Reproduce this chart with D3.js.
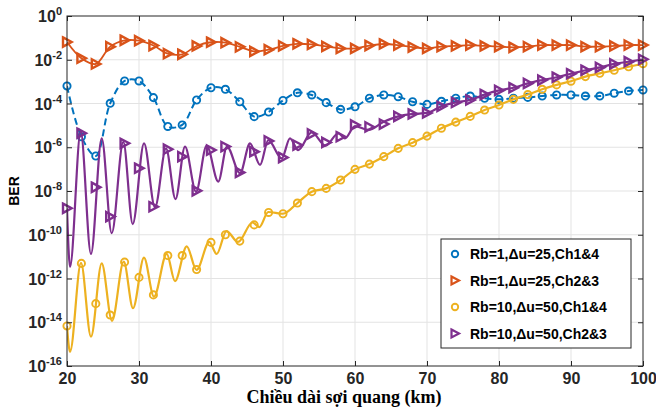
<!DOCTYPE html>
<html>
<head>
<meta charset="utf-8">
<script src="https://cdn.jsdelivr.net/npm/d3@7"></script>
<style>
    body { margin: 0; background: #fff; }
    svg text { font-family: "Liberation Sans", Arial, sans-serif; }
</style>
</head>
<body>
<div id="chart"></div>
<script>

// fibre length (km) where markers are drawn
var km = [20,22,24,26,28,30,32,34,36,38,40,42,44,46,48,50,52,54,56,58,
          60,62,64,66,68,70,72,74,76,78,80,82,84,86,88,90,92,94,96,98,100];

// log10(BER) at each marker
var berRb1Ch14 = [-3.20,-5.52,-6.40,-3.99,-2.97,-2.97,-3.73,-5.05,-4.98,-3.84,
                  -3.28,-3.35,-3.92,-4.60,-4.39,-3.86,-3.51,-3.61,-3.96,-4.27,
                  -4.15,-3.76,-3.61,-3.69,-3.92,-4.04,-3.90,-3.76,-3.66,-3.76,
                  -3.81,-3.76,-3.72,-3.66,-3.61,-3.61,-3.66,-3.66,-3.53,-3.43,-3.38];
var berRb1Ch23 = [-1.19,-1.93,-2.19,-1.40,-1.11,-1.13,-1.35,-1.72,-1.75,-1.37,
                  -1.20,-1.22,-1.41,-1.62,-1.54,-1.37,-1.27,-1.30,-1.39,-1.48,
                  -1.48,-1.35,-1.28,-1.33,-1.42,-1.48,-1.40,-1.37,-1.33,-1.37,
                  -1.40,-1.43,-1.40,-1.33,-1.33,-1.33,-1.40,-1.40,-1.37,-1.33,-1.33];
var berRb10Ch14 = [-14.17,-11.31,-13.15,-13.67,-11.25,-11.95,-12.75,-10.95,-10.95,-11.59,
                   -10.35,-10.00,-10.29,-9.55,-8.98,-9.04,-8.55,-8.03,-7.88,-7.50,
                   -7.01,-6.77,-6.43,-6.05,-5.79,-5.49,-5.13,-4.85,-4.59,-4.30,
                   -4.07,-3.81,-3.59,-3.35,-3.15,-2.98,-2.77,-2.62,-2.48,-2.32,-2.18];
var berRb10Ch23 = [-8.79,-5.36,-7.83,-9.17,-5.82,-6.96,-8.72,-6.09,-6.43,-7.99,
                   -6.13,-5.97,-7.15,-6.20,-5.71,-6.47,-5.90,-5.39,-5.78,-5.52,
                   -4.98,-5.07,-4.94,-4.59,-4.48,-4.43,-4.13,-3.95,-3.84,-3.59,
                   -3.40,-3.28,-3.08,-2.93,-2.80,-2.64,-2.48,-2.35,-2.19,-2.09,-1.98];

// turning points [km, log10(BER)] of the two fast oscillating curves
var curveRb10Ch14 = [[20,-14.17],[20.42,-15.35],[21.94,-11.29],[23.33,-14.66],[24.82,-11.31],
                     [26.25,-13.94],[27.88,-11.23],[29.17,-13.36],[30.69,-11.05],[32.08,-12.83],
                     [33.85,-10.87],[35.0,-12.12],[36.63,-10.53],[37.99,-11.61],[39.76,-10.33],
                     [40.79,-10.88],[42.15,-9.83],[43.75,-10.33],[45.76,-9.44],[46.7,-9.65],
                     [47.96,-8.96],[50,-9.04],[52,-8.55],[54,-8.03],[56,-7.88],[58,-7.50],
                     [60,-7.01],[62,-6.77],[64,-6.43],[66,-6.05],[68,-5.79],[70,-5.49],
                     [72,-5.13],[74,-4.85],[76,-4.59],[78,-4.30],[80,-4.07],[82,-3.81],
                     [84,-3.59],[86,-3.35],[88,-3.15],[90,-2.98],[92,-2.77],[94,-2.62],
                     [96,-2.48],[98,-2.32],[100,-2.18]];
var curveRb10Ch23 = [[20,-8.79],[20.42,-11.47],[21.9,-5.29],[23.33,-10.88],[24.82,-5.59],
                     [26.21,-9.93],[27.82,-5.75],[29.13,-9.51],[30.7,-5.82],[32.22,-8.75],
                     [33.75,-6.05],[35.07,-8.37],[36.39,-5.97],[37.92,-8.03],[39.4,-5.92],
                     [41.01,-7.57],[42.22,-5.97],[44.03,-7.19],[45.42,-5.82],[46.81,-6.81],
                     [47.96,-5.67],[49.82,-6.51],[50.97,-5.59],[52.1,-6.13],[53.99,-5.32],
                     [55.93,-5.93],[57.68,-5.36],[58.6,-5.59],[60,-5.03],[61.85,-5.21],
                     [63.93,-4.85],[66,-4.59],[68,-4.48],[70,-4.43],[72,-4.13],[74,-3.95],
                     [76,-3.84],[78,-3.59],[80,-3.40],[82,-3.28],[84,-3.08],[86,-2.93],
                     [88,-2.80],[90,-2.64],[92,-2.48],[94,-2.35],[96,-2.19],[98,-2.09],[100,-1.98]];

var legendLabels = ["Rb=1,\u0394u=25,Ch1&4", "Rb=1,\u0394u=25,Ch2&3",
                    "Rb=10,\u0394u=50,Ch1&4", "Rb=10,\u0394u=50,Ch2&3"];
var xTicks = [20,30,40,50,60,70,80,90,100];
var yTickExps = [0,-2,-4,-6,-8,-10,-12,-14,-16];

var xLabel = "Chi\u1EC1u d\u00E0i s\u1EE3i quang (km)";
var yLabel = "BER";

var series = [
    { name: legendLabels[0], marks: berRb1Ch14,  curve: null,          colour: "#0072BD", symbol: "circle",   dash: "7,4", width: 2 },
    { name: legendLabels[1], marks: berRb1Ch23,  curve: null,          colour: "#D95319", symbol: "triangle", dash: null,  width: 1.8 },
    { name: legendLabels[2], marks: berRb10Ch14, curve: curveRb10Ch14, colour: "#EDB120", symbol: "circle",   dash: null,  width: 2.2 },
    { name: legendLabels[3], marks: berRb10Ch23, curve: curveRb10Ch23, colour: "#7E2F8E", symbol: "triangle", dash: null,  width: 2.2 }
];

var svgWidth = 656, svgHeight = 408;
var margin = {top: 16, right: 13, bottom: 42, left: 67};
var width = svgWidth - margin.left - margin.right;
var height = svgHeight - margin.top - margin.bottom;

var svg = d3.select("#chart").append("svg")
    .attr("width", svgWidth)
    .attr("height", svgHeight);

svg.append("rect")
    .attr("width", svgWidth)
    .attr("height", svgHeight)
    .attr("fill", "#fff");

var plotArea = svg.append("g")
    .attr("transform", "translate(" + margin.left + "," + margin.top + ")");

var xscale = d3.scaleLinear()
    .domain([20, 100])
    .range([0, width]);

var yscale = d3.scaleLog()
    .domain([1e-16, 1])
    .range([height, 0]);

var axisColour = "#262626";

// grid
plotArea.append("g")
    .selectAll("line")
    .data(xTicks.slice(1, -1))
    .enter().append("line")
        .attr("x1", d => xscale(d))
        .attr("x2", d => xscale(d))
        .attr("y1", 0)
        .attr("y2", height)
        .attr("stroke", "#e3e3e3")
        .attr("stroke-width", 1);

plotArea.append("g")
    .selectAll("line")
    .data(yTickExps.slice(1, -1))
    .enter().append("line")
        .attr("x1", 0)
        .attr("x2", width)
        .attr("y1", d => yscale(Math.pow(10, d)))
        .attr("y2", d => yscale(Math.pow(10, d)))
        .attr("stroke", "#e3e3e3")
        .attr("stroke-width", 1);

// clip for the curves
svg.append("clipPath")
    .attr("id", "plot-clip")
    .append("rect")
        .attr("width", width)
        .attr("height", height);

var lineGen = d3.line()
    .x(d => xscale(d[0]))
    .y(d => yscale(Math.pow(10, d[1])));

var triangle = "M-4,-4.6 L4.6,0 L-4,4.6 Z";

series.forEach(function (s) {
    var pts = km.map((k, i) => [k, s.marks[i]]);
    var linePts = s.curve === null ? pts : s.curve;
    var gen = s.curve === null ? lineGen.curve(d3.curveCatmullRom.alpha(0.5)) : lineGen.curve(d3.curveMonotoneX);

    plotArea.append("path")
        .datum(linePts)
        .attr("d", gen)
        .attr("fill", "none")
        .attr("stroke", s.colour)
        .attr("stroke-width", s.width)
        .attr("stroke-dasharray", s.dash)
        .attr("stroke-linejoin", "round")
        .attr("clip-path", "url(#plot-clip)");

    var g = plotArea.append("g");
    if (s.symbol == "circle") {
        g.selectAll("circle")
            .data(pts)
            .enter().append("circle")
                .attr("cx", d => xscale(d[0]))
                .attr("cy", d => yscale(Math.pow(10, d[1])))
                .attr("r", 3.6)
                .attr("fill", "none")
                .attr("stroke", s.colour)
                .attr("stroke-width", 1.9);
    } else {
        g.selectAll("path")
            .data(pts)
            .enter().append("path")
                .attr("d", triangle)
                .attr("transform", d => "translate(" + xscale(d[0]) + "," + yscale(Math.pow(10, d[1])) + ")")
                .attr("fill", "none")
                .attr("stroke", s.colour)
                .attr("stroke-width", 2.4)
                .attr("stroke-linejoin", "miter");
    }
});

// axes: ticks point inward on all four sides
var yTickVals = yTickExps.map(e => Math.pow(10, e));

var gX = plotArea.append("g")
    .attr("transform", "translate(0," + height + ")")
    .call(d3.axisBottom(xscale).tickValues(xTicks).tickSize(-5).tickPadding(7).tickFormat(d3.format("d")));
plotArea.append("g")
    .call(d3.axisTop(xscale).tickValues(xTicks).tickSize(-5).tickFormat(""));
var gY = plotArea.append("g")
    .call(d3.axisLeft(yscale).tickValues(yTickVals).tickSize(-5).tickFormat(""));
plotArea.append("g")
    .attr("transform", "translate(" + width + ",0)")
    .call(d3.axisRight(yscale).tickValues(yTickVals).tickSize(-5).tickFormat(""));

plotArea.selectAll(".domain").remove();
plotArea.selectAll(".tick line").attr("stroke", axisColour);

gX.selectAll("text")
    .attr("fill", axisColour)
    .style("font-size", "16px")
    .style("font-weight", "bold");

// y tick labels as 10 with superscript exponent
yTickExps.forEach(function (e) {
    var t = plotArea.append("text")
        .attr("x", -5)
        .attr("y", yscale(Math.pow(10, e)) + 6)
        .attr("text-anchor", "end")
        .attr("fill", axisColour)
        .style("font-size", "16px")
        .style("font-weight", "bold");
    t.append("tspan").text("10");
    t.append("tspan")
        .attr("dy", -7)
        .style("font-size", "11px")
        .text(e);
});

plotArea.append("rect")
    .attr("width", width)
    .attr("height", height)
    .attr("fill", "none")
    .attr("stroke", axisColour)
    .attr("stroke-width", 1);

// axis labels
svg.append("text")
    .attr("x", 344)
    .attr("y", 403)
    .attr("text-anchor", "middle")
    .attr("fill", "#000")
    .style("font-family", "'Liberation Serif', 'Times New Roman', serif")
    .style("font-size", "18px")
    .style("font-weight", "bold")
    .text(xLabel);

svg.append("text")
    .attr("transform", "translate(19,191) rotate(-90)")
    .attr("text-anchor", "middle")
    .attr("fill", "#000")
    .style("font-size", "14px")
    .style("font-weight", "bold")
    .text(yLabel);

// legend
var legend = svg.append("g")
    .attr("transform", "translate(441,239)");

legend.append("rect")
    .attr("width", 190)
    .attr("height", 109)
    .attr("fill", "#fff")
    .attr("stroke", axisColour)
    .attr("stroke-width", 1);

series.forEach(function (s, i) {
    var row = legend.append("g")
        .attr("transform", "translate(0," + (15 + i * 26.5) + ")");
    if (s.symbol == "circle") {
        row.append("circle")
            .attr("cx", 14)
            .attr("r", 3.2)
            .attr("fill", "none")
            .attr("stroke", s.colour)
            .attr("stroke-width", 1.9);
    } else {
        row.append("path")
            .attr("d", "M-3.5,-4 L4,0 L-3.5,4 Z")
            .attr("transform", "translate(14,0)")
            .attr("fill", "none")
            .attr("stroke", s.colour)
            .attr("stroke-width", 2.2);
    }
    row.append("text")
        .attr("x", 29)
        .attr("y", 5)
        .attr("fill", "#000")
        .style("font-size", "14px")
        .style("font-weight", "bold")
        .text(s.name);
});

</script>
</body>
</html>
